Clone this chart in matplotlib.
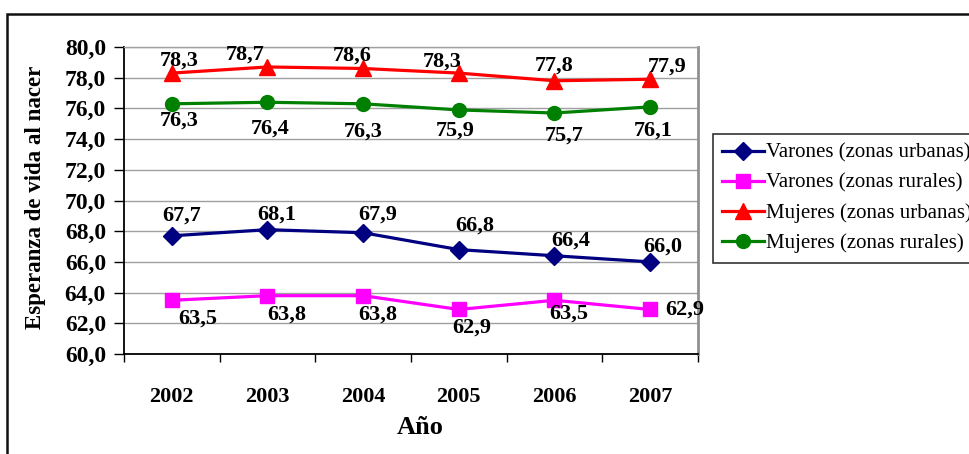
import matplotlib
matplotlib.use('Agg')
import matplotlib.pyplot as plt
from matplotlib.patches import Rectangle

years = ['2002', '2003', '2004', '2005', '2006', '2007']
varones_urbanas = [67.7, 68.1, 67.9, 66.8, 66.4, 66.0]
varones_rurales = [63.5, 63.8, 63.8, 62.9, 63.5, 62.9]
mujeres_urbanas = [78.3, 78.7, 78.6, 78.3, 77.8, 77.9]
mujeres_rurales = [76.3, 76.4, 76.3, 75.9, 75.7, 76.1]

y_ticks = [60 + 2 * i for i in range(11)]

plt.rcParams['font.family'] = ['Liberation Serif', 'DejaVu Serif']

W, H = 970, 454
fig = plt.figure(figsize=(W / 100, H / 100), dpi=100)
fig.patch.set_facecolor('white')

# marco exterior (se corta por la derecha y abajo)
fig.patches.append(Rectangle((7 / W, -0.1), 1.2, 1 - 14 / H + 0.1,
                             transform=fig.transFigure, fill=False,
                             edgecolor='#101010', linewidth=1.8, zorder=0))

ax = fig.add_axes([124 / W, 1 - 354 / H, 574 / W, 307 / H])

x = list(range(len(years)))

# (serie, color, marcador, tamaño, desplazamientos de etiqueta en px (dx, dy))
series = [
    ('Varones (zonas urbanas)', varones_urbanas, '#000080', 'D', 9,
     [(10, 20), (9, 15), (15, 18), (16, 24), (16, 15), (13, 15)], 'center'),
    ('Varones (zonas rurales)', varones_rurales, '#FF00FF', 's', 10,
     [(26, -18), (19, -19), (15, -19), (13, -18), (14, -13), (15, 0)], 'left'),
    ('Mujeres (zonas urbanas)', mujeres_urbanas, '#FF0000', '^', 11,
     [(7, 13), (-22, 12), (-11, 13), (-17, 12), (0, 15), (17, 13)], 'center'),
    ('Mujeres (zonas rurales)', mujeres_rurales, '#008000', 'o', 10,
     [(7, -17), (3, -26), (0, -28), (-4, -21), (10, -23), (3, -24)], 'center'),
]

handles = []
for name, vals, color, mk, ms, offs, last_ha in series:
    h, = ax.plot(x, vals, color=color, marker=mk, markersize=ms,
                 markerfacecolor=color, markeredgecolor=color,
                 linewidth=2.3, label=name, zorder=3, clip_on=False)
    handles.append(h)
    for i, v in enumerate(vals):
        dx, dy = offs[i]
        ha = 'center'
        if i == len(vals) - 1 and last_ha == 'left':
            ha = 'left'
        ax.annotate(f'{v:.1f}'.replace('.', ','), (i, v),
                    xytext=(dx, dy), textcoords='offset pixels',
                    ha=ha, va='center', fontsize=16, fontweight='bold',
                    color='black', zorder=4, annotation_clip=False)

ax.set_xlim(-0.5, len(years) - 0.5)
ax.set_ylim(60, 80)
ax.set_yticks(y_ticks)
ax.set_yticklabels([f'{t:.1f}'.replace('.', ',') for t in y_ticks],
                   fontsize=17, fontweight='bold')
ax.set_xticks(x)
ax.set_xticklabels(years, fontsize=16, fontweight='bold')
ax.set_xticks([i - 0.5 for i in range(len(years) + 1)], minor=True)
ax.tick_params(axis='x', which='major', length=0, pad=24)
ax.tick_params(axis='x', which='minor', length=6, width=1, direction='out')
ax.tick_params(axis='y', which='major', length=7, width=1, direction='out',
               pad=6)

ax.grid(axis='y', color='#A0A0A0', linewidth=1)
ax.set_axisbelow(True)
for s in ['left', 'bottom']:
    ax.spines[s].set_color('black')
    ax.spines[s].set_linewidth(1.3)
ax.spines['right'].set_color('#909090')
ax.spines['right'].set_linewidth(2)
ax.spines['top'].set_color('#A0A0A0')
ax.spines['top'].set_linewidth(1)

fig.text(36 / W, 1 - 197 / H, 'Esperanza de vida al nacer', rotation=90,
         ha='center', va='center', fontsize=16.5, fontweight='bold')
fig.text(420 / W, 1 - 428 / H, 'Año', ha='center', va='center',
         fontsize=19, fontweight='bold')

leg = fig.legend(handles=handles, loc='upper left',
                 bbox_to_anchor=(713 / W, 1 - 134 / H), borderaxespad=0,
                 fontsize=15, frameon=True, fancybox=False, shadow=False,
                 numpoints=1, handlelength=2.0, handletextpad=0.1,
                 labelspacing=0.5, borderpad=0.45)
leg.get_frame().set_edgecolor('black')
leg.get_frame().set_linewidth(1.2)

fig.savefig('out.png', dpi=100)
